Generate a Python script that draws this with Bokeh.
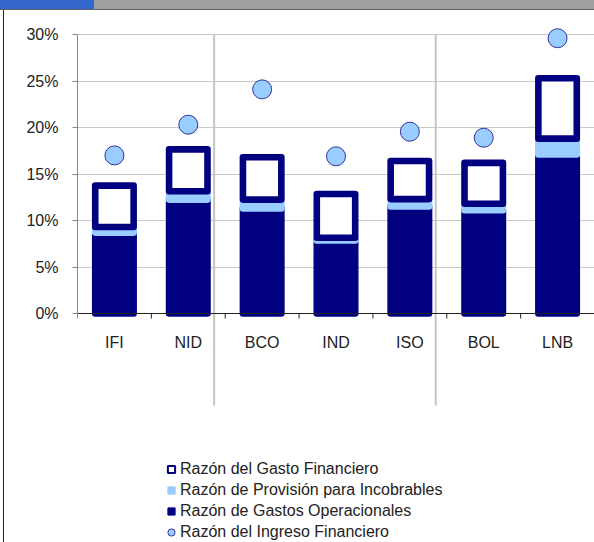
from bokeh.plotting import figure
from bokeh.models import Range1d, FixedTicker, ColumnDataSource, Legend, LegendItem, Div
from bokeh.layouts import column, row
from bokeh.core.properties import value
from bokeh.embed import file_html
from bokeh.resources import INLINE

# ---------------- data (percent) ----------------
entities = ["IFI", "NID", "BCO", "IND", "ISO", "BOL", "LNB"]
gastos_operacionales = [8.7, 12.25, 11.3, 7.85, 11.5, 11.1, 17.1]
provision_incobrables = [0.6, 0.9, 0.95, 0.3, 0.8, 0.7, 1.7]
gasto_financiero = [4.45, 4.5, 4.55, 4.7, 4.1, 4.4, 6.5]
ingreso_financiero = [17.0, 20.3, 24.1, 16.9, 19.55, 18.9, 29.6]
y_ticks = [0, 5, 10, 15, 20, 25, 30]
y_tick_labels = ["0%", "5%", "10%", "15%", "20%", "25%", "30%"]
group_breaks = [1.85, 4.85]

legend_labels = [
    "Razón del Gasto Financiero",
    "Razón de Provisión para Incobrables",
    "Razón de Gastos Operacionales",
    "Razón del Ingreso Financiero",
]

# ---------------- styling / layout ----------------
NAVY = "#000080"
LIGHT = "#99ccff"
FONT = value("Liberation Sans")
HEADER_H = 10
FRAME_X = 3                    # left frame line position
W, H = 594, 542 - HEADER_H
FIG_W = W - FRAME_X - 1
PX = 9.3                       # pixels per percentage point
ZERO_PAGE_Y = 313              # page y of the 0% line
y_top = (ZERO_PAGE_Y - HEADER_H) / PX
y_bot = (ZERO_PAGE_Y - 542) / PX

xs = [i + 0.5 for i in range(len(entities))]
top_prov = [a + b for a, b in zip(gastos_operacionales, provision_incobrables)]
top_fin = [a + b for a, b in zip(top_prov, gasto_financiero)]

src = ColumnDataSource(dict(
    x=xs, cat=entities, op=gastos_operacionales, prov_top=top_prov,
    fin_top=top_fin, ing=ingreso_financiero,
    lbl_y=[-29 / PX] * len(entities),
))

p = figure(width=FIG_W, height=H, output_backend="svg", toolbar_location=None,
           x_range=Range1d(0, len(entities)), y_range=Range1d(y_bot, y_top),
           x_axis_location=None, min_border_left=77 - FRAME_X - 1, min_border_right=0,
           min_border_top=0, min_border_bottom=0, margin=0)
p.outline_line_color = None
p.xgrid.visible = False
p.ygrid.ticker = FixedTicker(ticks=y_ticks[1:])
p.ygrid.grid_line_color = "#c8c8c8"
p.ygrid.grid_line_width = 1

ax = p.yaxis[0]
ax.bounds = (0, 30)
ax.ticker = FixedTicker(ticks=y_ticks)
ax.major_label_overrides = {t: l for t, l in zip(y_ticks, y_tick_labels)}
ax.axis_line_color = "#868686"
ax.major_tick_line_color = "#868686"
ax.major_tick_in = 0
ax.major_tick_out = 5
ax.minor_tick_line_color = None
ax.major_label_standoff = 14
ax.major_label_text_font = "Liberation Sans"
ax.major_label_text_font_size = "16px"
ax.major_label_text_color = "#222222"

# group separator lines (reach below the axis)
p.segment(x0=group_breaks, x1=group_breaks, y0=[30] * 2, y1=[-92 / PX] * 2,
          line_color="#c4c4c4", line_width=2)

# stacked bars
p.vbar(x="x", width=0.52, bottom=0, top="op", source=src,
       fill_color=NAVY, line_color=NAVY, line_width=6.6, line_join="round")
p.vbar(x="x", width=0.52, bottom="op", top="prov_top", source=src,
       fill_color=LIGHT, line_color=LIGHT, line_width=6.6, line_join="round")
p.vbar(x="x", width=0.52, bottom="prov_top", top="fin_top", source=src,
       fill_color="white", line_color=NAVY, line_width=6.6, line_join="round")

# x axis line and ticks
bounds = list(range(len(entities) + 1))
p.segment(x0=[0], x1=[len(entities)], y0=[0], y1=[0], line_color="#222222", line_width=1)
p.segment(x0=bounds, x1=bounds, y0=[0] * len(bounds), y1=[-5 / PX] * len(bounds),
          line_color="#222222", line_width=1)

# income points
p.scatter(x="x", y="ing", source=src, size=19, fill_color=LIGHT,
          line_color="#333399", line_width=1)

# category labels
p.text(x="x", y="lbl_y", text="cat", source=src, text_align="center",
       text_baseline="middle", text_font=FONT, text_font_size="16px",
       text_color="#222222")

# legend (proxy renderers placed outside the visible range)
far_x, far_y = [-100], [-100]
r1 = p.scatter(x=far_x, y=far_y, marker="square", fill_color="white", line_color=NAVY, line_width=2)
r2 = p.scatter(x=far_x, y=far_y, marker="square", fill_color=LIGHT, line_color=LIGHT, line_width=1)
r3 = p.scatter(x=far_x, y=far_y, marker="square", fill_color=NAVY, line_color=NAVY, line_width=1)
r4 = p.scatter(x=far_x, y=far_y, marker="circle", fill_color=LIGHT, line_color="#333399", line_width=1)
legend = Legend(items=[LegendItem(label=l, renderers=[r]) for l, r in
                       zip(legend_labels, [r1, r2, r3, r4])],
                location=(85, 1), orientation="vertical",
                glyph_width=18, glyph_height=18, label_height=18, spacing=3,
                padding=0, margin=0, label_standoff=0,
                border_line_color=None, background_fill_alpha=0,
                label_text_font="Liberation Sans", label_text_font_size="16px",
                label_text_color="#222222")
p.add_layout(legend, "center")

header = Div(text="", width=W, height=HEADER_H, margin=0,
             styles={"background": "linear-gradient(to right, #3366cc 0px, #3366cc 94px, "
                                   "#a0a0a0 94px, #a0a0a0 100%)",
                     "border-bottom": "1px solid #606060",
                     "box-sizing": "border-box"})
gap = Div(text="", width=FRAME_X, height=H, margin=0)
frame_line = Div(text="", width=1, height=H, margin=0,
                 styles={"background": "#202020"})

layout = column(header, row(gap, frame_line, p, spacing=0, margin=0), spacing=0, margin=0)
open("out.html", "w").write(file_html(layout, INLINE))
